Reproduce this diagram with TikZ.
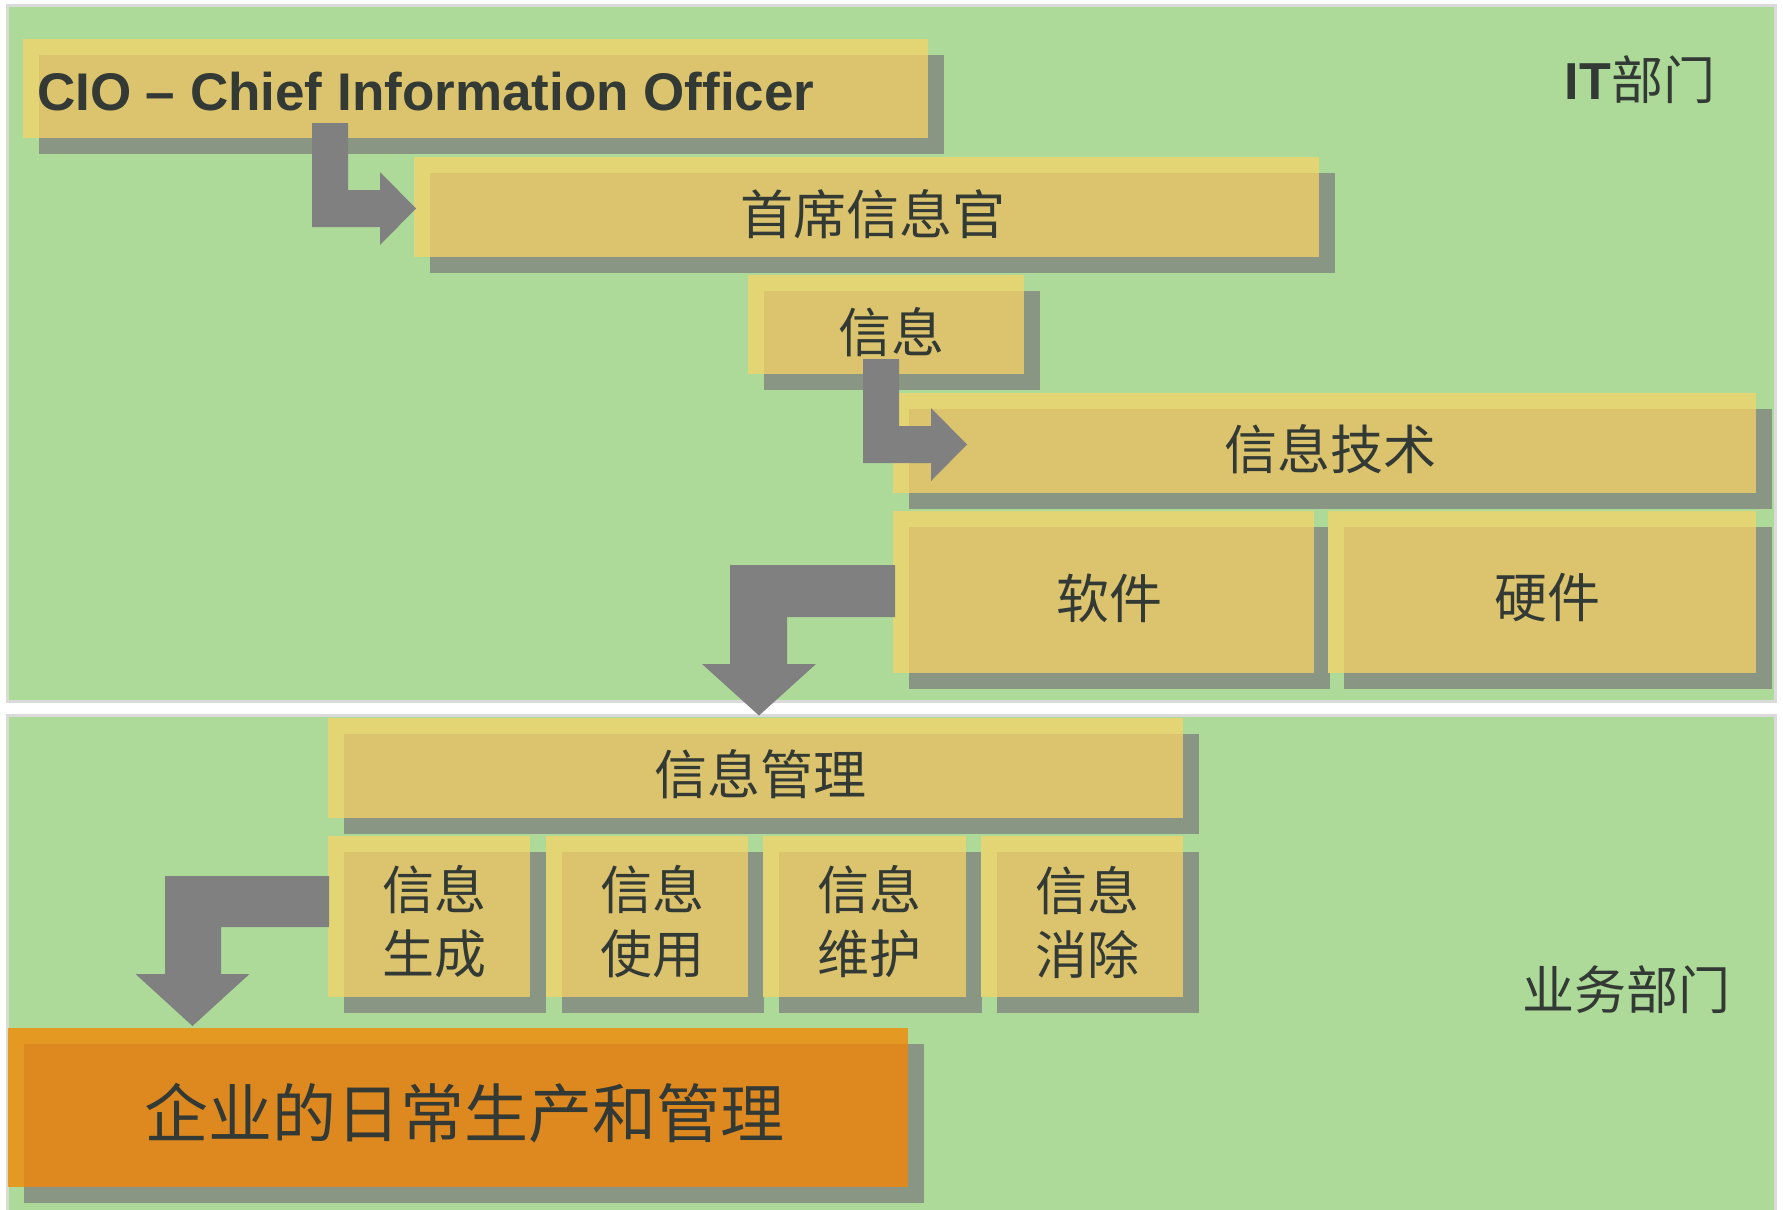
\documentclass[tikz,border=0pt]{standalone}
\usepackage{fontspec}
\setmainfont{Liberation Sans}
\newfontfamily\cjk{Noto Sans CJK SC}
\definecolor{greenbg}{HTML}{ADDA99}
\definecolor{bordergray}{HTML}{DADADA}
\definecolor{yellowc}{HTML}{E3D573}
\definecolor{shadowc}{HTML}{8A9684}
\definecolor{overlapc}{HTML}{DBC46D}
\definecolor{orangec}{HTML}{E49A22}
\definecolor{orangeov}{HTML}{DE8820}
\definecolor{arrowc}{HTML}{808080}
\definecolor{textc}{HTML}{333A35}
\tikzset{
  txt/.style={inner sep=0pt, outer sep=0pt, text=textc, align=center},
  blockarrow/.style={fill=arrowc},
}
\newcommand\panelbox[7]{%
  \fill[shadowc] ({#2+16},{#3+16}) rectangle ({#4+16},{#5+16});
  \node[anchor=north west, inner sep=0pt, outer sep=0pt, fill=#6,
        minimum width={(#4-#2)*1pt}, minimum height={(#5-#3)*1pt}] (#1) at (#2,#3) {};
  \fill[#7] ({#2+16},{#3+16}) rectangle (#4,#5);
}
\begin{document}
\begin{tikzpicture}[x=1pt,y=-1pt]
\useasboundingbox (0,0) rectangle (1783,1210);
\fill[white] (0,0) rectangle (1783,1210);
% panels
\fill[bordergray] (6,4) rectangle (1777,703);
\fill[greenbg] (9,7) rectangle (1774,700);
\fill[bordergray] (6,714) rectangle (1777,1210);
\fill[greenbg] (9,717) rectangle (1774,1210);

% boxes
\panelbox{cio}{23}{39}{928}{138}{yellowc}{overlapc}
\panelbox{shouxi}{414}{157}{1319}{257}{yellowc}{overlapc}
\panelbox{xinxi}{748}{275}{1024}{374}{yellowc}{overlapc}
\panelbox{xxjs}{893}{393}{1756}{493}{yellowc}{overlapc}
\panelbox{ruanjian}{893}{511}{1314}{673}{yellowc}{overlapc}
\panelbox{yingjian}{1328}{511}{1756}{673}{yellowc}{overlapc}
\panelbox{xxgl}{328}{718}{1183}{818}{yellowc}{overlapc}
\panelbox{sA}{328}{836}{530}{997}{yellowc}{overlapc}
\panelbox{sB}{545.5}{836}{748}{997}{yellowc}{overlapc}
\panelbox{sC}{763}{836}{965.5}{997}{yellowc}{overlapc}
\panelbox{sD}{980.5}{836}{1183}{997}{yellowc}{overlapc}
\panelbox{qiye}{8}{1028}{908}{1187}{orangec}{orangeov}

% texts
\node[txt, anchor=base west, font=\fontsize{53}{60}\selectfont\bfseries] (cio-t) at (37,110) {CIO – Chief Information Officer};
\node[txt, font=\fontsize{53}{64}\selectfont\cjk] (shouxi-t) at (873,214) {首席信息官};
\node[txt, font=\fontsize{53}{64}\selectfont\cjk] (xinxi-t) at (891,332) {信息};
\node[txt, font=\fontsize{53}{64}\selectfont\cjk] (xxjs-t) at (1330,449) {信息技术};
\node[txt, font=\fontsize{53}{64}\selectfont\cjk] (ruanjian-t) at (1109,598) {软件};
\node[txt, font=\fontsize{53}{64}\selectfont\cjk] (yingjian-t) at (1547,598) {硬件};
\node[txt, font=\fontsize{53}{64}\selectfont\cjk] (xxgl-t) at (760,774) {信息管理};
\node[txt, font=\fontsize{52}{64}\selectfont\cjk] (sA-t) at (434,922) {信息\\生成};
\node[txt, font=\fontsize{52}{64}\selectfont\cjk] (sB-t) at (652,922) {信息\\使用};
\node[txt, font=\fontsize{52}{64}\selectfont\cjk] (sC-t) at (869,922) {信息\\维护};
\node[txt, font=\fontsize{52}{64}\selectfont\cjk] (sD-t) at (1087,922) {信息\\消除};
\node[txt, font=\fontsize{64}{72}\selectfont\cjk] (qiye-t) at (464,1113) {企业的日常生产和管理};
\node[txt, anchor=east, font=\fontsize{52}{60}\selectfont] (it-t) at (1715,80) {{\bfseries IT}{\cjk 部门}};
\node[txt, anchor=east, font=\fontsize{52}{60}\selectfont\cjk] (yw-t) at (1730,990) {业务部门};

% block arrows
\fill[blockarrow] (312,123) -- (348,123) -- (348,190) -- (380,190) -- (380,172)
  -- (416,208.5) -- (380,245) -- (380,227) -- (312,227) -- cycle;
\fill[blockarrow] (863,359) -- (899,359) -- (899,426) -- (931,426) -- (931,408)
  -- (967,444.5) -- (931,481) -- (931,463) -- (863,463) -- cycle;
\fill[blockarrow] (895,565) -- (895,617) -- (787,617) -- (787,664) -- (816,664)
  -- (759,715.5) -- (702,664) -- (730,664) -- (730,565) -- cycle;
\fill[blockarrow] (329,876) -- (329,927) -- (221,927) -- (221,974) -- (249.5,974)
  -- (192.5,1026) -- (135.5,974) -- (165,974) -- (165,876) -- cycle;
\end{tikzpicture}
\end{document}
